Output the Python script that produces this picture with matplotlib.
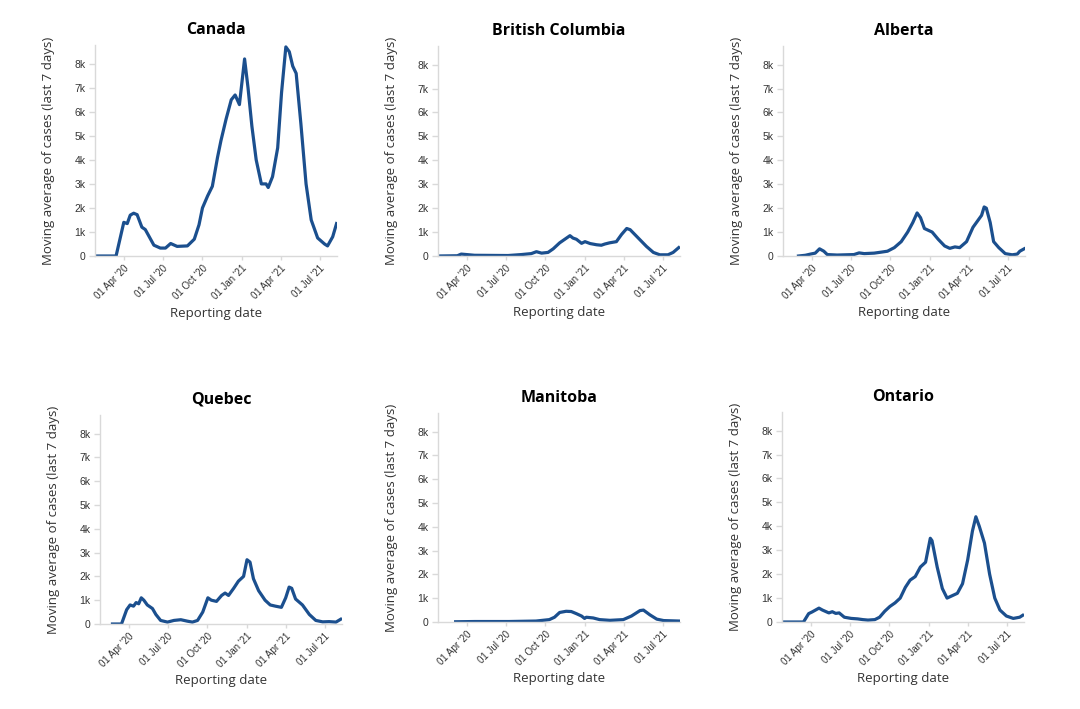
import matplotlib
matplotlib.use("Agg")
import matplotlib.pyplot as plt
import matplotlib.dates as mdates
import matplotlib.ticker as mticker
import pandas as pd

# ---- data (7-day moving average of cases) ----
canada_dates = ["2020-01-25", "2020-03-14", "2020-04-01", "2020-04-09", "2020-04-16", "2020-04-24",
                "2020-05-02", "2020-05-13", "2020-05-21", "2020-06-10", "2020-06-25", "2020-07-07",
                "2020-07-19", "2020-08-03", "2020-08-27", "2020-09-12", "2020-09-23", "2020-10-01",
                "2020-10-13", "2020-10-24", "2020-11-05", "2020-11-13", "2020-11-25", "2020-12-07",
                "2020-12-16", "2020-12-26", "2021-01-07", "2021-01-15", "2021-01-24", "2021-02-03",
                "2021-02-15", "2021-02-26", "2021-03-03", "2021-03-13", "2021-03-25", "2021-04-03",
                "2021-04-13", "2021-04-21", "2021-04-29", "2021-05-07", "2021-05-18", "2021-05-30",
                "2021-06-11", "2021-06-26", "2021-07-12", "2021-07-19", "2021-07-31", "2021-08-09"]
canada_vals = [0, 0, 1400, 1350, 1700, 1780,
               1720, 1200, 1100, 450, 330, 330,
               520, 400, 420, 700, 1300, 2000,
               2500, 2900, 4100, 4800, 5700, 6500,
               6700, 6300, 8200, 7000, 5400, 4000,
               3000, 3000, 2850, 3300, 4500, 6800,
               8700, 8500, 7900, 7600, 5500, 3000,
               1500, 750, 500, 420, 800, 1350]

bc_dates = ["2020-01-25", "2020-03-10", "2020-03-19", "2020-04-19", "2020-07-06", "2020-08-06",
            "2020-08-29", "2020-09-10", "2020-09-22", "2020-10-07", "2020-10-19", "2020-11-03",
            "2020-11-15", "2020-11-27", "2020-12-04", "2020-12-12", "2020-12-24", "2021-01-01",
            "2021-01-13", "2021-01-28", "2021-02-08", "2021-02-16", "2021-02-27", "2021-03-15",
            "2021-03-27", "2021-04-08", "2021-04-16", "2021-05-05", "2021-05-24", "2021-06-09",
            "2021-06-24", "2021-07-13", "2021-07-25", "2021-08-07"]
bc_vals = [0, 10, 80, 30, 20, 60,
           100, 180, 120, 150, 300, 550,
           700, 850, 750, 700, 530, 600,
           520, 470, 450, 500, 550, 600,
           900, 1150, 1100, 750, 400, 150,
           50, 50, 150, 350]

alberta_dates = ["2020-03-01", "2020-03-17", "2020-03-29", "2020-04-09", "2020-04-19", "2020-04-29",
                 "2020-05-07", "2020-05-30", "2020-07-08", "2020-07-20", "2020-08-01", "2020-08-24",
                 "2020-09-09", "2020-09-24", "2020-10-10", "2020-10-26", "2020-11-10", "2020-11-22",
                 "2020-12-02", "2020-12-10", "2020-12-19", "2020-12-31", "2021-01-06", "2021-01-20",
                 "2021-02-04", "2021-02-16", "2021-02-28", "2021-03-11", "2021-03-27", "2021-04-11",
                 "2021-04-23", "2021-05-01", "2021-05-07", "2021-05-12", "2021-05-21", "2021-05-29",
                 "2021-06-10", "2021-06-25", "2021-07-11", "2021-07-23", "2021-07-29", "2021-08-08"]
alberta_vals = [0, 30, 80, 120, 300, 200,
                60, 40, 60, 130, 100, 120,
                160, 200, 350, 600, 1000, 1400,
                1800, 1600, 1150, 1050, 1000, 700,
                420, 320, 380, 350, 600, 1200,
                1500, 1700, 2050, 2000, 1400, 600,
                350, 100, 50, 80, 200, 300]

quebec_dates = ["2020-02-23", "2020-03-15", "2020-03-27", "2020-04-04", "2020-04-12", "2020-04-18",
                "2020-04-24", "2020-04-30", "2020-05-06", "2020-05-14", "2020-05-26", "2020-06-03",
                "2020-06-14", "2020-06-30", "2020-07-15", "2020-07-31", "2020-08-15", "2020-08-27",
                "2020-09-08", "2020-09-20", "2020-10-02", "2020-10-10", "2020-10-22", "2020-11-03",
                "2020-11-11", "2020-11-19", "2020-12-01", "2020-12-12", "2020-12-24", "2021-01-01",
                "2021-01-08", "2021-01-16", "2021-01-28", "2021-02-12", "2021-02-24", "2021-03-08",
                "2021-03-22", "2021-04-01", "2021-04-09", "2021-04-15", "2021-04-24", "2021-05-10",
                "2021-05-26", "2021-06-10", "2021-06-26", "2021-07-11", "2021-07-27", "2021-08-07"]
quebec_vals = [0, 0, 600, 800, 750, 900,
               850, 1100, 1000, 800, 650, 400,
               150, 80, 150, 180, 120, 80,
               150, 500, 1100, 1000, 950, 1200,
               1300, 1200, 1500, 1800, 2000, 2700,
               2600, 1900, 1400, 1000, 800, 750,
               700, 1100, 1550, 1500, 1050, 800,
               400, 150, 90, 100, 80, 200]

manitoba_dates = ["2020-03-06", "2020-04-20", "2020-07-08", "2020-09-09", "2020-10-10", "2020-10-22",
                  "2020-11-03", "2020-11-18", "2020-11-30", "2020-12-12", "2020-12-24", "2020-12-31",
                  "2021-01-04", "2021-01-20", "2021-02-04", "2021-02-28", "2021-03-31", "2021-04-19",
                  "2021-05-09", "2021-05-17", "2021-06-01", "2021-06-17", "2021-07-03", "2021-08-08"]
manitoba_vals = [10, 20, 20, 40, 100, 200,
                 400, 450, 440, 350, 250, 150,
                 200, 170, 100, 70, 100, 250,
                 480, 500, 300, 120, 60, 40]

ontario_dates = ["2020-01-25", "2020-03-15", "2020-03-27", "2020-04-04", "2020-04-20", "2020-04-28",
                 "2020-05-13", "2020-05-21", "2020-05-29", "2020-06-06", "2020-06-18", "2020-07-04",
                 "2020-07-19", "2020-07-31", "2020-08-12", "2020-08-28", "2020-09-08", "2020-09-20",
                 "2020-10-02", "2020-10-14", "2020-10-26", "2020-11-07", "2020-11-18", "2020-11-30",
                 "2020-12-12", "2020-12-24", "2021-01-04", "2021-01-08", "2021-01-20", "2021-02-01",
                 "2021-02-12", "2021-02-24", "2021-03-08", "2021-03-20", "2021-04-01", "2021-04-12",
                 "2021-04-20", "2021-04-28", "2021-05-10", "2021-05-22", "2021-06-03", "2021-06-15",
                 "2021-06-30", "2021-07-16", "2021-07-31", "2021-08-07"]
ontario_vals = [0, 0, 350, 420, 580, 500,
                380, 430, 360, 380, 200, 150,
                130, 100, 80, 100, 200, 450,
                650, 800, 1000, 1450, 1750, 1900,
                2300, 2500, 3500, 3400, 2300, 1400,
                1000, 1100, 1200, 1600, 2600, 3800,
                4400, 4000, 3300, 2000, 1000, 500,
                250, 150, 200, 280]

regions = ["Canada", "British Columbia", "Alberta", "Quebec", "Manitoba", "Ontario"]
series = [(canada_dates, canada_vals), (bc_dates, bc_vals), (alberta_dates, alberta_vals),
          (quebec_dates, quebec_vals), (manitoba_dates, manitoba_vals), (ontario_dates, ontario_vals)]

# axes boxes in pixels: left, right, top, bottom
boxes = [(95, 337, 45, 256), (438, 680, 46, 256), (783, 1025, 46, 256),
         (100, 342, 415, 624), (438, 680, 413, 622), (782, 1024, 412, 622)]

W, H = 1080, 709
LINE = "#1b4f8e"
GRID = "#d9d9d9"

fig = plt.figure(figsize=(W / 100, H / 100), dpi=100)
fig.patch.set_facecolor("white")

x_lo, x_hi = pd.Timestamp("2020-01-25"), pd.Timestamp("2021-08-10")

for name, (dates, vals), (l, r, t, b) in zip(regions, series, boxes):
    ax = fig.add_axes([l / W, 1 - b / H, (r - l) / W, (b - t) / H])
    ax.plot(pd.to_datetime(dates), vals, color=LINE, linewidth=2.3, solid_joinstyle="round")

    ax.set_xlim(x_lo, x_hi)
    ax.set_ylim(0, 8780)
    ax.yaxis.set_major_locator(mticker.MultipleLocator(1000))
    ax.yaxis.set_major_formatter(mticker.FuncFormatter(
        lambda v, _: "0" if v == 0 else f"{int(v / 1000)}k"))
    ax.xaxis.set_major_locator(mdates.MonthLocator(bymonth=[1, 4, 7, 10]))
    ax.xaxis.set_major_formatter(mdates.DateFormatter("%d %b '%y"))

    for side in ["top", "right"]:
        ax.spines[side].set_visible(False)
    for side in ["left", "bottom"]:
        ax.spines[side].set_color(GRID)
        ax.spines[side].set_linewidth(1.0)

    ax.tick_params(axis="y", colors=GRID, length=4, width=1, labelcolor="#333333",
                   labelsize=7.5, pad=3)
    ax.tick_params(axis="x", colors=GRID, length=3, width=1, labelcolor="#333333",
                   labelsize=7, pad=2)
    for lab in ax.get_yticklabels() + ax.get_xticklabels():
        lab.set_family("Liberation Sans")
    for lab in ax.get_xticklabels():
        lab.set_rotation(45)
        lab.set_ha("right")
        lab.set_rotation_mode("anchor")

    ax.set_title(name, fontsize=11.5, fontweight="bold", family="Open Sans", pad=8)
    ax.set_ylabel("Moving average of cases (last 7 days)", fontsize=9.5, family="Open Sans",
                  color="#333333")
    ax.set_xlabel("Reporting date", fontsize=9.5, family="Open Sans", color="#333333")
    ax.yaxis.set_label_coords(-0.165, 0.5)
    ax.xaxis.set_label_coords(0.5, -0.24)

fig.savefig("out.png", dpi=100, facecolor="white")
